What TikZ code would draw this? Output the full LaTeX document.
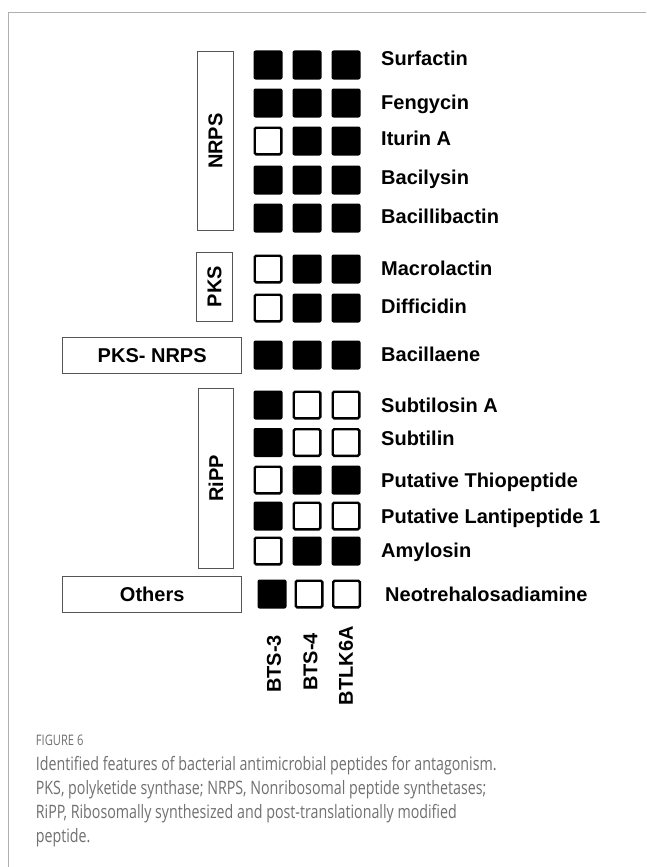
\documentclass[tikz,border=0pt]{standalone}
\usepackage{fontspec}
\setmainfont{Liberation Sans}
\newfontfamily\capfont[FakeStretch=0.77]{Open Sans}
\definecolor{captxt}{HTML}{707070}
\definecolor{framegray}{HTML}{B0B0B0}
\definecolor{boxgray}{HTML}{555555}
\begin{document}
\begin{tikzpicture}[x=1pt,y=-1pt,
  fillsq/.style={draw=none,fill=black,minimum size=29pt,inner sep=0pt,rounded corners=2pt},
  opensq/.style={draw=black,line width=2.4pt,fill=white,minimum size=26.6pt,inner sep=0pt,rounded corners=1.5pt},
  catbox/.style={draw=boxgray,line width=1pt,fill=white,inner sep=0pt,font=\bfseries\fontsize{20}{24}\selectfont},
  lbl/.style={anchor=base west,inner sep=0pt,font=\bfseries\fontsize{20}{24}\selectfont},
  strain/.style={rotate=90,inner sep=0pt,font=\bfseries\fontsize{20}{24}\selectfont},
  captitle/.style={anchor=base west,inner sep=0pt,text=captxt,font=\capfont\fontsize{14.5}{17}\selectfont},
  capline/.style={anchor=base west,inner sep=0pt,text=captxt,font=\capfont\fontsize{18.5}{24}\selectfont}]
\path[fill=white] (0,0) rectangle (646,867);
\useasboundingbox (0,0) rectangle (646,867);
\draw[framegray,line width=1pt] (646,13) -- (8,13) -- (8,867);

% category boxes
\node[catbox,rotate=90,minimum width=179pt,minimum height=35.6pt] (nrps) at (215.5,141.2) {NRPS};
\node[catbox,rotate=90,minimum width=68.7pt,minimum height=35.6pt] (pks) at (214.5,286.7) {PKS};
\node[catbox,minimum width=179pt,minimum height=36pt] (pksnrps) at (152.2,355.3) {PKS- NRPS};
\node[catbox,rotate=90,minimum width=180pt,minimum height=35pt] (ripp) at (215.8,478.3) {RiPP};
\node[catbox,minimum width=179pt,minimum height=36.3pt] (others) at (152.2,594.2) {Others};

% squares: row / y / pattern
\foreach \r/\y/\a/\b/\c in {1/65/1/1/1, 2/103/1/1/1, 3/141/0/1/1, 4/180/1/1/1, 5/218/1/1/1,
  6/269/0/1/1, 7/308/0/1/1, 8/355/1/1/1, 9/405/1/0/0, 10/442.5/1/0/0, 11/480/0/1/1,
  12/516/1/0/0, 13/551/0/1/1}{
  \foreach \col/\x/\v in {1/268/\a, 2/307/\b, 3/346/\c}{
    \ifnum\v=1
      \node[fillsq] (s\r-\col) at (\x,\y) {};
    \else
      \node[opensq] (s\r-\col) at (\x,\y) {};
    \fi
  }
}
\node[fillsq] (s14-1) at (272,594) {};
\node[opensq] (s14-2) at (309,594) {};
\node[opensq] (s14-3) at (346.5,594) {};

% labels
\foreach \r/\y/\t in {1/66/Surfactin, 2/109.3/Fengycin, 3/145/Iturin A, 4/184/Bacilysin,
  5/223.3/Bacillibactin, 6/275/Macrolactin, 7/313.3/Difficidin, 8/361/Bacillaene,
  9/412.3/Subtilosin A, 10/445.7/Subtilin, 11/487.7/Putative Thiopeptide,
  12/523.3/Putative Lantipeptide 1, 13/557.7/Amylosin}{
  \node[lbl] (l\r) at (381,\y) {\t};
}
\node[lbl] (l14) at (385,601) {Neotrehalosadiamine};

% strains
\node[strain] (bts3) at (274,664) {BTS-3};
\node[strain] (bts4) at (310.5,662) {BTS-4};
\node[strain] (btlk) at (346,665.7) {BTLK6A};

% caption
\node[captitle] (figno) at (35.7,745.7) {FIGURE 6};
\node[capline] (c1) at (35.7,770.7) {Identified features of bacterial antimicrobial peptides for antagonism.};
\node[capline] (c2) at (35.7,794.5) {PKS, polyketide synthase; NRPS, Nonribosomal peptide synthetases;};
\node[capline] (c3) at (35.7,818.5) {RiPP, Ribosomally synthesized and post-translationally modified};
\node[capline] (c4) at (35.7,842) {peptide.};
\end{tikzpicture}
\end{document}
